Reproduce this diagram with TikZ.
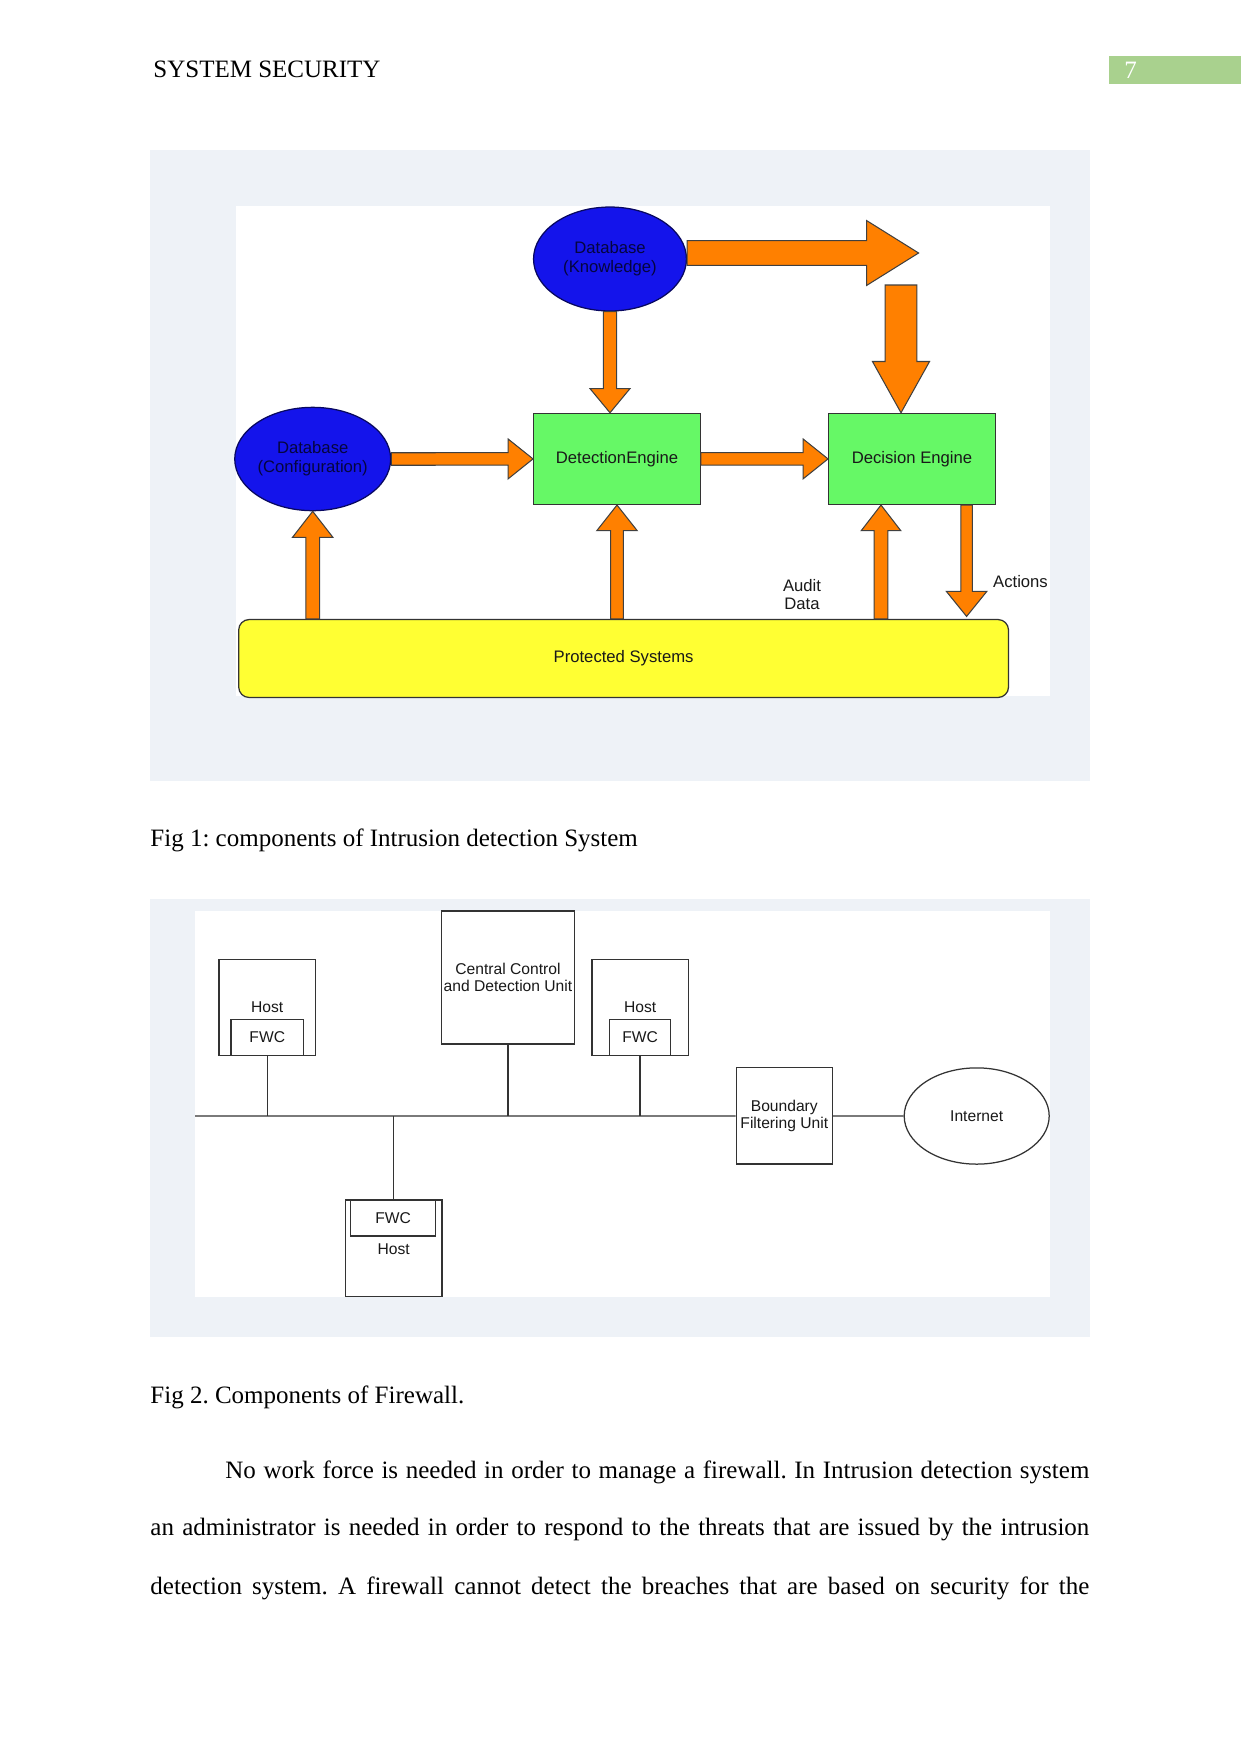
\documentclass[tikz,border=0pt]{standalone}
\usepackage{fontspec}
\setmainfont{Liberation Serif}
\newfontfamily\arialf{Liberation Sans}
\usetikzlibrary{shapes.geometric,calc}
\definecolor{panel}{HTML}{EEF2F7}
\definecolor{hdrgreen}{HTML}{A9D18E}
\definecolor{orng}{HTML}{FF8000}
\definecolor{dbblue}{HTML}{1414EB}
\definecolor{navy}{HTML}{0A0A78}
\definecolor{dbtext}{HTML}{05053F}
\definecolor{engreen}{HTML}{66F866}
\definecolor{psyellow}{HTML}{FFFF33}
\definecolor{lineg}{HTML}{333333}

\newcommand\blockarrow[5]{%
  \coordinate (ba-s) at #1;
  \coordinate (ba-t) at #2;
  \coordinate (ba-h) at ($(ba-t)!#5!(ba-s)$);
  \draw[barrow] ($(ba-s)!#3!90:(ba-t)$) -- ($(ba-h)!#3!90:(ba-t)$) -- ($(ba-h)!#4!90:(ba-t)$) -- (ba-t) -- ($(ba-h)!#4!-90:(ba-t)$) -- ($(ba-h)!#3!-90:(ba-t)$) -- ($(ba-s)!#3!-90:(ba-t)$) -- cycle;}

\begin{document}
\frenchspacing
\begin{tikzpicture}[x=0.48pt,y=-0.48pt,
  db/.style={ellipse, draw=navy!80!black, line width=0.6pt, fill=dbblue, text=dbtext,
    font=\arialf\fontsize{8}{9}\selectfont, align=center, inner sep=0pt},
  engine/.style={rectangle, draw=black!80, line width=0.6pt, fill=engreen,
    font=\arialf\fontsize{8}{9}\selectfont, text=black!90, minimum width=80pt, minimum height=43.7pt, inner sep=0pt},
  barrow/.style={draw=black!75, line width=0.5pt, fill=orng, line join=miter},
  lbl/.style={font=\arialf\fontsize{8}{8.5}\selectfont, text=black!90, align=center, inner sep=0pt},
  fwbox/.style={draw=lineg, line width=0.6pt, fill=white, font=\arialf\fontsize{7.5}{8.4}\selectfont,
    text=black!90, inner sep=0pt, align=center},
  wire/.style={draw=lineg, line width=0.6pt},
  bodytext/.style={font=\fontsize{12}{14}\selectfont, inner sep=0pt, anchor=west}
]
\useasboundingbox (0,0) rectangle (1241,1754);
\fill[white] (0,0) rectangle (1241,1754);

% header
\node[bodytext] (hdr) at (153,69) {SYSTEM SECURITY};
\fill[hdrgreen] (1109,56) rectangle (1241,84);
\node[bodytext, text=white] (pg) at (1124,70) {7};

% ---------- Fig 1 ----------
\fill[panel] (150,150) rectangle (1090,781);
\fill[white] (236,206) rectangle (1050,696);

\node[db, minimum width=73.4pt, minimum height=49.9pt] (kdb) at (610,259) {Database\\(Knowledge)};
\node[db, minimum width=73.9pt, minimum height=49.6pt] (cfg) at (312.7,459) {Database\\(Configuration)};
\node[engine] (det) at (617,458.9) {DetectionEngine};
\node[engine] (dec) at (912,458.9) {Decision Engine};
\node[rectangle, rounded corners=5pt, draw=black!80, line width=0.6pt, fill=psyellow,
  minimum width=369.5pt, minimum height=37.4pt, font=\arialf\fontsize{8}{9}\selectfont, text=black!90] (ps) at (623.6,658.5) {Protected Systems};

\coordinate (trs) at ($(kdb.east)+(0,-6)$);
\coordinate (trt) at (918.6,253);
\coordinate (drs) at (901,285);
\coordinate (drt) at ($(dec.north)+(-11,0)$);
\coordinate (auditx) at ($(dec.south)+(-31,0)$);
\coordinate (actx) at ($(dec.south)+(54.6,0)$);

\blockarrow{(trs)}{(trt)}{5.9pt}{15.6pt}{25pt}
\blockarrow{(drs)}{(drt)}{7.6pt}{13.7pt}{24.6pt}
\blockarrow{(kdb.south)}{(kdb.south |- det.north)}{3.2pt}{9.6pt}{11.6pt}
\blockarrow{(cfg.east)}{(det.west)}{3pt}{9.6pt}{12pt}
\blockarrow{(det.east)}{(dec.west)}{3pt}{9.6pt}{12pt}
\blockarrow{(cfg.south |- ps.north)}{(cfg.south)}{3.3pt}{9.7pt}{12.5pt}
\blockarrow{(det.south |- ps.north)}{(det.south)}{3.1pt}{9.7pt}{12.3pt}
\blockarrow{(auditx |- ps.north)}{(auditx)}{3.3pt}{9.5pt}{12.3pt}
\blockarrow{(actx)}{($(actx |- ps.north)+(0,-2.5)$)}{2.8pt}{9.7pt}{12pt}

\node[lbl] (audit) at (802,594.4) {Audit\\Data};
\node[lbl] (actions) at (1020.5,581.5) {Actions};

\node[bodytext] (cap1) at (150,840) {Fig 1: components of Intrusion detection System};

% ---------- Fig 2 ----------
\fill[panel] (150,899) rectangle (1090,1337);
\fill[white] (195,911) rectangle (1050,1297);

\coordinate (busL) at (195,1116);
\node[fwbox, minimum width=46.3pt, minimum height=46.3pt] (h1) at (267.25,1007.5) {Host};
\node[fwbox, minimum width=34.8pt, minimum height=17.5pt] (f1) at (267.25,1037.5) {FWC};
\node[fwbox, minimum width=63.9pt, minimum height=63.9pt] (cc) at (508,977.5) {Central Control\\and Detection Unit};
\node[fwbox, minimum width=46.3pt, minimum height=46.3pt] (h2) at (640.1,1007.5) {Host};
\node[fwbox, minimum width=29.1pt, minimum height=17.5pt] (f2) at (640.1,1037.5) {FWC};
\node[fwbox, minimum width=46.1pt, minimum height=46.2pt] (bfu) at (784.3,1115.9) {Boundary\\Filtering Unit};
\node[fwbox, ellipse, minimum width=69.6pt, minimum height=46.2pt] (inet) at (976.7,1116) {Internet};
\node[fwbox, minimum width=46.4pt, minimum height=46.4pt] (h3) at (393.7,1248.4) {};
\node[fwbox, minimum width=40.6pt, minimum height=17.3pt] (f3) at (393.1,1218) {FWC};
\node[font=\arialf\fontsize{7.5}{8.4}\selectfont, text=black!90, inner sep=0pt] (h3t) at (393.7,1249) {Host};

\draw[wire] (busL) -- (bfu.west);
\draw[wire] (bfu.east) -- (inet.west);
\draw[wire] (h1.south) -- (h1.south |- busL);
\draw[wire] (cc.south) -- (cc.south |- busL);
\draw[wire] (h2.south) -- (h2.south |- busL);
\draw[wire] (h3.north) -- (h3.north |- busL);

\node[bodytext] (cap2) at (150,1397.6) {Fig 2. Components of Firewall.};

% paragraph
\node[bodytext] (p1) at (225,1472.6) {\makebox[414.7pt][s]{No work force is needed in order to manage a firewall. In Intrusion detection system}};
\node[bodytext] (p2) at (150,1529.7) {\makebox[450.7pt][s]{an administrator is needed in order to respond to the threats that are issued by the intrusion}};
\node[bodytext] (p3) at (150,1588) {\makebox[450.7pt][s]{detection system. A firewall cannot detect the breaches that are based on security for the}};
\end{tikzpicture}
\end{document}
